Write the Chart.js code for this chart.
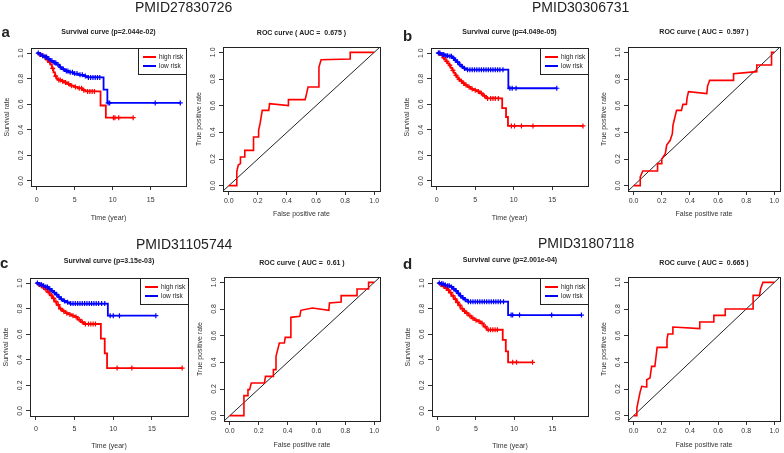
<!DOCTYPE html>
<html>
<head>
<meta charset="utf-8">
<script src="https://cdn.jsdelivr.net/npm/chart.js@4.4.1/dist/chart.umd.min.js"></script>
<style>
body { margin: 0; background: #fff; }
#fig { position: relative; width: 784px; height: 453px; overflow: hidden; font-family: 'Liberation Sans', Arial, sans-serif; color: #222; }
#fig canvas { position: absolute; }
.pmid { position: absolute; font-size: 14px; line-height: 14px; white-space: nowrap; }
.tag { position: absolute; font-size: 15px; line-height: 15px; font-weight: bold; }
.legend { position: absolute; box-sizing: border-box; width: 49px; height: 27px; border: 1px solid #222; background: #fff; font-size: 6.5px; }
.legend i { position: absolute; left: 4px; width: 13px; height: 0; border-top: 2px solid; }
.legend span { position: absolute; left: 20px; line-height: 8px; white-space: nowrap; }
</style>
</head>
<body>
<div id="fig"></div>
<script>
// headers / labels
const pmids = ['PMID27830726', 'PMID30306731', 'PMID31105744', 'PMID31807118'];
const panelLetters = ['a', 'b', 'c', 'd'];
const pValues = ['2.044e-02', '4.049e-05', '3.15e-03', '2.001e-04'];
const aucValues = ['0.675', '0.597', '0.61', '0.665'];
const groupNames = ['high risk', 'low risk'];
const groupColors = ['#ff0000', '#0000ff'];
const survTicks = [0, 5, 10, 15];
const unitTicks = [0, 0.2, 0.4, 0.6, 0.8, 1.0];

// survival curves (time in years, survival rate), censor times
const aHighTime = [0, 0.3, 0.6, 0.9, 1.2, 1.5, 1.8, 2.0, 2.2, 2.4, 2.6, 2.8, 3.2, 3.6, 4.0, 4.4, 4.9, 5.4, 6.0, 6.4, 8.4, 9.1, 12.7];
const aHighSurv = [1.0, 0.99, 0.98, 0.97, 0.95, 0.93, 0.91, 0.88, 0.85, 0.82, 0.80, 0.79, 0.78, 0.77, 0.76, 0.745, 0.735, 0.725, 0.71, 0.70, 0.59, 0.495, 0.495];
const aHighCensor = [0.4, 0.8, 1.1, 1.4, 1.7, 2.1, 2.5, 2.9, 3.1, 3.4, 3.8, 4.2, 4.6, 5.1, 5.6, 5.9, 6.2, 6.7, 7.0, 7.3, 7.6, 10.1, 10.3, 10.8, 12.7];
const aLowTime = [0, 0.3, 0.6, 1.0, 1.4, 1.8, 2.2, 2.6, 3.0, 3.3, 3.7, 4.2, 4.8, 5.5, 6.2, 6.6, 8.8, 9.3, 18.9];
const aLowSurv = [1.0, 0.99, 0.98, 0.97, 0.955, 0.94, 0.925, 0.91, 0.89, 0.875, 0.86, 0.85, 0.84, 0.83, 0.82, 0.81, 0.715, 0.61, 0.61];
const aLowCensor = [0.2, 0.5, 0.8, 1.1, 1.3, 1.6, 2.0, 2.3, 2.5, 2.8, 3.1, 3.5, 3.9, 4.1, 4.4, 4.7, 5.0, 5.3, 5.7, 6.0, 6.4, 6.8, 7.1, 7.4, 7.7, 8.0, 8.3, 9.4, 9.6, 15.6, 18.9];

const bHighTime = [0, 0.4, 0.8, 1.0, 1.2, 1.4, 1.6, 1.8, 2.0, 2.2, 2.4, 2.6, 2.8, 3.0, 3.3, 3.6, 4.0, 4.4, 4.8, 5.2, 5.6, 6.0, 6.4, 8.5, 9.0, 9.25, 19.0];
const bHighSurv = [1.0, 0.985, 0.965, 0.95, 0.935, 0.92, 0.905, 0.885, 0.865, 0.845, 0.825, 0.81, 0.795, 0.78, 0.765, 0.75, 0.735, 0.72, 0.71, 0.70, 0.685, 0.665, 0.645, 0.57, 0.50, 0.43, 0.43];
const bHighCensor = [0.3, 0.9, 1.3, 1.7, 2.1, 2.5, 2.9, 3.2, 3.5, 3.8, 4.2, 4.6, 5.0, 5.4, 5.8, 6.2, 6.6, 7.0, 7.3, 7.6, 8.0, 9.7, 10.1, 11.0, 12.5, 19.0];
const bLowTime = [0, 0.5, 1.0, 1.5, 2.0, 2.3, 2.6, 2.9, 3.2, 3.5, 3.8, 9.3, 15.6];
const bLowSurv = [1.0, 0.99, 0.98, 0.975, 0.96, 0.945, 0.93, 0.91, 0.895, 0.88, 0.87, 0.725, 0.725];
const bLowCensor = [0.2, 0.4, 0.7, 0.9, 1.2, 1.4, 1.7, 1.9, 2.2, 2.4, 2.7, 3.0, 3.3, 3.6, 4.0, 4.3, 4.6, 4.9, 5.2, 5.5, 5.8, 6.1, 6.4, 6.7, 7.0, 7.3, 7.6, 7.9, 8.2, 8.6, 9.5, 9.8, 10.3, 15.6];

const cHighTime = [0, 0.3, 0.6, 0.9, 1.2, 1.5, 1.8, 2.1, 2.4, 2.7, 3.0, 3.4, 3.8, 4.2, 4.6, 5.0, 5.4, 5.8, 6.2, 8.4, 8.9, 9.2, 18.9];
const cHighSurv = [1.0, 0.99, 0.98, 0.965, 0.95, 0.93, 0.905, 0.88, 0.855, 0.83, 0.80, 0.78, 0.765, 0.755, 0.745, 0.735, 0.715, 0.695, 0.68, 0.565, 0.45, 0.335, 0.335];
const cHighCensor = [0.4, 0.7, 1.0, 1.3, 1.6, 2.0, 2.3, 2.6, 2.9, 3.2, 3.6, 4.0, 4.4, 4.8, 5.2, 5.6, 6.0, 6.4, 6.8, 7.1, 7.4, 7.7, 10.5, 12.4, 18.9];
const cLowTime = [0, 0.4, 0.8, 1.2, 1.6, 2.0, 2.3, 2.6, 2.9, 3.2, 3.5, 3.9, 4.4, 9.3, 15.5];
const cLowSurv = [1.0, 0.99, 0.98, 0.97, 0.955, 0.94, 0.925, 0.91, 0.89, 0.875, 0.86, 0.85, 0.84, 0.745, 0.745];
const cLowCensor = [0.2, 0.5, 0.7, 1.0, 1.3, 1.5, 1.8, 2.1, 2.4, 2.7, 3.0, 3.3, 3.7, 4.1, 4.5, 4.8, 5.1, 5.4, 5.7, 6.0, 6.3, 6.6, 6.9, 7.2, 7.5, 7.8, 8.1, 8.5, 8.9, 9.6, 10.0, 10.8, 15.5];

const dHighTime = [0, 0.3, 0.6, 0.9, 1.2, 1.5, 1.8, 2.1, 2.4, 2.7, 3.0, 3.3, 3.6, 4.0, 4.4, 4.8, 5.2, 5.6, 6.0, 6.4, 8.5, 8.9, 9.2, 12.4];
const dHighSurv = [1.0, 0.99, 0.975, 0.96, 0.945, 0.925, 0.90, 0.875, 0.85, 0.825, 0.80, 0.78, 0.765, 0.745, 0.725, 0.71, 0.70, 0.685, 0.66, 0.635, 0.555, 0.465, 0.38, 0.38];
const dHighCensor = [0.4, 0.8, 1.1, 1.4, 1.7, 2.0, 2.3, 2.6, 2.9, 3.2, 3.5, 3.8, 4.2, 4.6, 5.0, 5.4, 5.8, 6.2, 6.6, 6.9, 7.2, 7.5, 7.8, 9.8, 10.3, 12.4];
const dLowTime = [0, 0.4, 0.8, 1.2, 1.6, 2.0, 2.3, 2.6, 2.9, 3.2, 3.5, 3.9, 9.2, 18.8];
const dLowSurv = [1.0, 0.995, 0.985, 0.98, 0.97, 0.955, 0.94, 0.92, 0.90, 0.885, 0.87, 0.855, 0.75, 0.75];
const dLowCensor = [0.2, 0.5, 0.7, 1.0, 1.3, 1.5, 1.8, 2.1, 2.4, 2.7, 3.0, 3.3, 3.6, 4.0, 4.3, 4.6, 4.9, 5.2, 5.5, 5.8, 6.1, 6.4, 6.7, 7.0, 7.3, 7.6, 7.9, 8.2, 8.6, 9.6, 9.8, 10.7, 14.9, 18.8];

// ROC curves
const aRocFpr = [0, 0.055, 0.055, 0.065, 0.08, 0.08, 0.11, 0.11, 0.17, 0.17, 0.205, 0.205, 0.215, 0.23, 0.275, 0.28, 0.41, 0.41, 0.525, 0.535, 0.545, 0.615, 0.62, 0.635, 0.835, 0.835, 1];
const aRocTpr = [0, 0, 0.105, 0.155, 0.165, 0.215, 0.215, 0.265, 0.265, 0.365, 0.365, 0.415, 0.465, 0.565, 0.565, 0.615, 0.6, 0.645, 0.645, 0.69, 0.74, 0.74, 0.89, 0.945, 0.95, 1, 1];
const bRocFpr = [0, 0.047, 0.047, 0.065, 0.17, 0.17, 0.2, 0.2, 0.225, 0.235, 0.26, 0.275, 0.28, 0.305, 0.34, 0.35, 0.375, 0.38, 0.39, 0.52, 0.525, 0.54, 0.71, 0.71, 0.875, 0.875, 0.98, 0.98, 1];
const bRocTpr = [0, 0, 0.065, 0.11, 0.11, 0.165, 0.165, 0.2, 0.24, 0.305, 0.34, 0.39, 0.455, 0.565, 0.565, 0.61, 0.61, 0.66, 0.705, 0.69, 0.745, 0.79, 0.79, 0.84, 0.855, 0.905, 0.905, 1, 1];
const cRocFpr = [0, 0.098, 0.098, 0.126, 0.126, 0.137, 0.149, 0.24, 0.247, 0.302, 0.302, 0.32, 0.32, 0.332, 0.343, 0.378, 0.384, 0.419, 0.423, 0.485, 0.492, 0.572, 0.686, 0.69, 0.771, 0.771, 0.881, 0.881, 0.961, 0.961, 1];
const cRocTpr = [0, 0, 0.15, 0.15, 0.195, 0.195, 0.245, 0.245, 0.295, 0.295, 0.345, 0.345, 0.445, 0.495, 0.545, 0.545, 0.5875, 0.5875, 0.7375, 0.745, 0.79, 0.8075, 0.79, 0.845, 0.8525, 0.9, 0.9, 0.95, 0.95, 1, 1];
const dRocFpr = [0, 0.02, 0.023, 0.035, 0.047, 0.058, 0.088, 0.093, 0.116, 0.128, 0.151, 0.158, 0.167, 0.233, 0.237, 0.244, 0.274, 0.279, 0.47, 0.47, 0.57, 0.57, 0.651, 0.651, 0.849, 0.849, 0.895, 0.902, 0.919, 1];
const dRocTpr = [0, 0, 0.0575, 0.12, 0.1825, 0.22, 0.215, 0.27, 0.2825, 0.37, 0.37, 0.4325, 0.5125, 0.5125, 0.57, 0.6125, 0.6125, 0.665, 0.6525, 0.7025, 0.7025, 0.7525, 0.7525, 0.8, 0.8, 0.9025, 0.9025, 0.95, 1, 1];

const survData = [
    [[aHighTime, aHighSurv, aHighCensor], [aLowTime, aLowSurv, aLowCensor]],
    [[bHighTime, bHighSurv, bHighCensor], [bLowTime, bLowSurv, bLowCensor]],
    [[cHighTime, cHighSurv, cHighCensor], [cLowTime, cLowSurv, cLowCensor]],
    [[dHighTime, dHighSurv, dHighCensor], [dLowTime, dLowSurv, dLowCensor]]
];
const rocData = [[aRocFpr, aRocTpr], [bRocFpr, bRocTpr], [cRocFpr, cRocTpr], [dRocFpr, dRocTpr]];

// layout (plot box in page px, title / label rows)
const layout = [
    { surv: { l: 31, r: 186, t: 48, b: 186, titleY: 32.3, labelY: 200.5, xTitleY: 218 }, roc: { l: 223, r: 380, t: 47, b: 191, titleY: 33, labelY: 201.5, xTitleY: 214.5 }, pmid: [135, 0], tag: [1.5, 24] },
    { surv: { l: 431, r: 588, t: 48, b: 186, titleY: 32.3, labelY: 200.5, xTitleY: 218 }, roc: { l: 628, r: 780, t: 47, b: 191, titleY: 32.5, labelY: 201.5, xTitleY: 214.5 }, pmid: [532, 0], tag: [403, 28] },
    { surv: { l: 30, r: 188, t: 278, b: 416, titleY: 261, labelY: 429, xTitleY: 446 }, roc: { l: 224, r: 380, t: 277, b: 421, titleY: 263.3, labelY: 431.3, xTitleY: 445 }, pmid: [136, 236.5], tag: [0, 255] },
    { surv: { l: 432, r: 588, t: 278, b: 416, titleY: 260.5, labelY: 429, xTitleY: 446 }, roc: { l: 628, r: 780, t: 277, b: 421, titleY: 263, labelY: 431.3, xTitleY: 445 }, pmid: [538, 236], tag: [403, 255.5] }
];

const SURV_MIN = -0.756, SURV_MAX = 19.656, UNIT_MIN = -0.04, UNIT_MAX = 1.04;

Chart.defaults.font.family = "'Liberation Sans', Arial, sans-serif";
Chart.defaults.font.size = 7;
Chart.defaults.color = '#222';

const fig = document.getElementById('fig');

const frame = {
    id: 'frame',
    beforeDatasetsDraw(chart) {
        const { ctx, chartArea: a } = chart;
        ctx.save();
        ctx.strokeStyle = '#222';
        ctx.lineWidth = 1;
        ctx.strokeRect(Math.round(a.left) + 0.5, Math.round(a.top) + 0.5, Math.round(a.right - a.left), Math.round(a.bottom - a.top));
        ctx.restore();
    }
};

function axis(horizontal, min, max, ticks, fmt, title, tickPad, titlePad) {
    return {
        type: 'linear', min, max, bounds: 'data',
        afterBuildTicks: s => { s.ticks = ticks.map(v => ({ value: v })); },
        afterFit: s => { if (horizontal) s.height = 42; else s.width = 30; },
        grid: { display: true, drawOnChartArea: false, drawTicks: true, tickLength: 4, color: '#333', lineWidth: 1 },
        border: { display: false },
        ticks: {
            autoSkip: false, padding: tickPad, color: '#333', font: { size: 7 }, callback: fmt,
            minRotation: horizontal ? 0 : 90, maxRotation: horizontal ? 0 : 90, crossAlign: horizontal ? 'near' : 'center'
        },
        title: { display: true, text: title, color: '#333', font: { size: 7 }, padding: horizontal ? { top: 0, bottom: titlePad } : { top: 1.5, bottom: 0 } }
    };
}

function makeChart(box, titleText, datasets, xMin, xMax, xTicks, xFmt, xTitle, yTitle) {
    const cv = document.createElement('canvas');
    const left = box.l - 32, top = box.t - 29;
    cv.width = box.r - box.l + 42;
    cv.height = box.b - box.t + 71;
    cv.style.left = left + 'px';
    cv.style.top = top + 'px';
    fig.appendChild(cv);
    const t1 = box.titleY - top - 4.2;
    new Chart(cv, {
        type: 'scatter',
        data: { datasets },
        options: {
            responsive: false, animation: false, events: [],
            layout: { padding: { left: 2, right: 10, top: 0, bottom: 0 } },
            plugins: {
                legend: { display: false }, tooltip: { enabled: false },
                title: { display: true, text: titleText, fullSize: false, color: '#222', font: { size: 7, weight: 'bold' }, padding: { top: t1, bottom: 29 - 8.4 - t1 } }
            },
            scales: {
                x: axis(true, xMin, xMax, xTicks, xFmt, xTitle, box.labelY - box.b - 8.2, box.b + 42 - 4.2 - box.xTitleY),
                y: axis(false, UNIT_MIN, UNIT_MAX, unitTicks, v => v.toFixed(1), yTitle, 1.1, 0)
            }
        },
        plugins: [frame]
    });
}

function survAt(times, surv, t) {
    let i = 0;
    while (i + 1 < times.length && times[i + 1] <= t) i++;
    return surv[i];
}

layout.forEach((p, k) => {
    // survival panel (low risk drawn on top)
    const ds = [];
    [1, 0].forEach(g => {
        const [times, surv, cens] = survData[k][g];
        ds.push({ data: times.map((t, i) => ({ x: t, y: surv[i] })), showLine: true, stepped: 'before', borderColor: groupColors[g], borderWidth: 1.8, pointRadius: 0 });
        ds.push({ data: cens.map(t => ({ x: t, y: survAt(times, surv, t) })), showLine: false, pointStyle: 'cross', pointRadius: 2.5, pointBorderWidth: 1.2, pointBorderColor: groupColors[g], pointBackgroundColor: groupColors[g] });
    });
    makeChart(p.surv, 'Survival curve (p=' + pValues[k] + ')', ds, SURV_MIN, SURV_MAX, survTicks, v => String(v), 'Time (year)', 'Survival rate');

    // ROC panel
    const [fpr, tpr] = rocData[k];
    makeChart(p.roc, 'ROC curve ( AUC =  ' + aucValues[k] + ' )', [
        { data: fpr.map((f, i) => ({ x: f, y: tpr[i] })), showLine: true, borderColor: '#ff0000', borderWidth: 1.6, pointRadius: 0 },
        { data: [{ x: UNIT_MIN, y: UNIT_MIN }, { x: UNIT_MAX, y: UNIT_MAX }], showLine: true, borderColor: '#222', borderWidth: 1, pointRadius: 0 }
    ], UNIT_MIN, UNIT_MAX, unitTicks, v => v.toFixed(1), 'False positive rate', 'True positive rate');

    // legend box in the survival panel
    const lg = document.createElement('div');
    lg.className = 'legend';
    lg.style.left = (p.surv.r - 48) + 'px';
    lg.style.top = p.surv.t + 'px';
    lg.innerHTML = groupNames.map((n, g) =>
        `<i style="top:${7 + g * 9}px;border-color:${groupColors[g]}"></i><span style="top:${4 + g * 9}px">${n}</span>`).join('');
    fig.appendChild(lg);

    const h = document.createElement('div');
    h.className = 'pmid';
    h.style.left = p.pmid[0] + 'px';
    h.style.top = p.pmid[1] + 'px';
    h.textContent = pmids[k];
    fig.appendChild(h);

    const tg = document.createElement('div');
    tg.className = 'tag';
    tg.style.left = p.tag[0] + 'px';
    tg.style.top = p.tag[1] + 'px';
    tg.textContent = panelLetters[k];
    fig.appendChild(tg);
});
</script>
</body>
</html>
